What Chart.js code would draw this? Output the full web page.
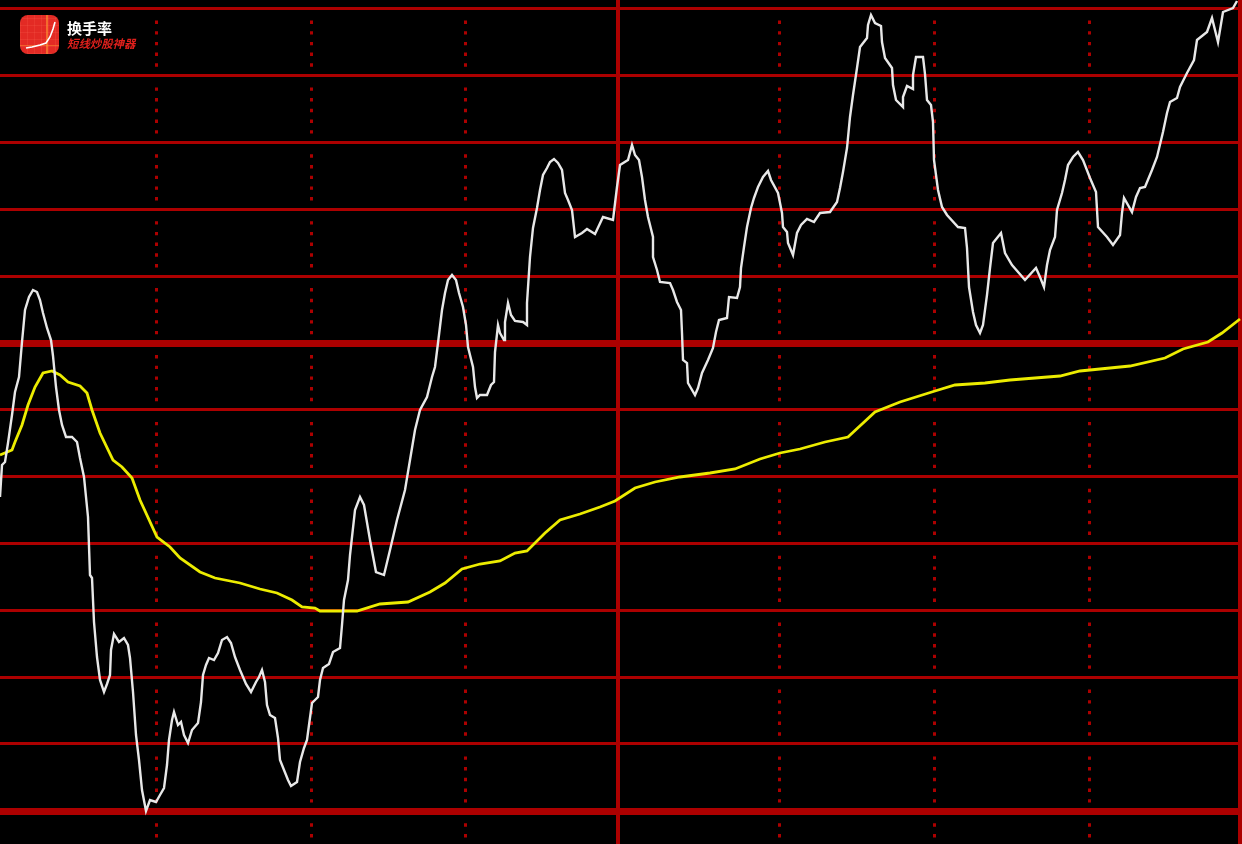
<!DOCTYPE html>
<html>
<head>
<meta charset="utf-8">
<title>换手率</title>
<script src="https://cdn.jsdelivr.net/npm/chart.js@4"></script>
<style>
    html, body { margin: 0; padding: 0; background: #000; overflow: hidden; }
    #chart { position: absolute; left: 0; top: 0; display: block; filter: blur(0.6px); }
    .logo { position: absolute; left: 20px; top: 15px; width: 39px; height: 39px; border-radius: 8px; overflow: hidden;
        background:
            linear-gradient(90deg, transparent 26px, rgba(255,150,50,.6) 26px, rgba(255,150,50,.6) 28px, transparent 28px),
            linear-gradient(0deg, transparent 8px, rgba(255,150,50,.5) 8px, rgba(255,150,50,.5) 9px, transparent 9px),
            repeating-linear-gradient(0deg, rgba(255,110,90,.18) 0 1px, transparent 1px 7px),
            repeating-linear-gradient(90deg, rgba(255,110,90,.18) 0 1px, transparent 1px 7px),
            #e32a24; }
    .logo svg { position: absolute; left: 0; top: 0; }
    .name { position: absolute; left: 67px; top: 18px; color: #fff; font: bold 15px/20px "Noto Sans CJK SC", sans-serif; letter-spacing: 0; }
    .slogan { position: absolute; left: 67px; top: 36px; color: #e0201c; font: italic bold 11.4px/14px "Noto Sans CJK SC", sans-serif; }
</style>
</head>
<body>
<canvas id="chart" width="1242" height="844"></canvas>
<div class="logo">
    <svg width="39" height="39"><polyline points="6,33 12,32 20,30 26,28 30,22 33,14 35,7" fill="none" stroke="#fff" stroke-width="1.6"/></svg>
</div>
<div class="name">换手率</div>
<div class="slogan">短线炒股神器</div>
<script>
// values, y counted from the top of the chart
const whiteX = [0,2,5,8,12,15,19,22,25,29,33,37,40,43,47,51,53,56,59,62,66,72,77,80,84,88,90,92,94,97,100,104,107,110,111,114,119,124,128,130,133,136,139,142,146,150,156,160,164,167,169,172,174,178,181,184,188,192,198,201,203,206,209,214,218,222,227,231,235,240,246,251,256,259,262,265,267,270,275,278,280,284,288,291,297,300,304,307,309,312,318,320,323,329,333,340,342,344,348,350,355,360,364,370,376,384,390,397,405,410,415,420,427,432,435,438,442,445,448,452,456,459,463,466,468,473,475,477,480,487,491,494,495,498,500,504,505,508,511,515,523,527,527,530,533,537,540,543,547,550,554,558,562,565,568,572,575,582,587,595,603,613,617,620,628,632,635,639,642,645,648,653,653,657,660,670,673,677,681,682,683,687,688,695,698,702,708,713,716,719,727,729,737,740,741,744,747,751,754,758,763,768,771,778,782,783,787,788,793,797,801,807,814,820,830,837,840,843,847,850,853,857,860,867,868,871,875,881,882,885,892,893,896,903,903,907,913,913,916,923,925,927,931,933,934,938,942,947,958,965,967,969,973,976,980,983,987,990,993,1001,1005,1012,1025,1036,1040,1044,1047,1050,1055,1057,1062,1065,1068,1073,1078,1083,1090,1096,1098,1107,1113,1120,1122,1124,1132,1136,1140,1145,1152,1157,1163,1167,1170,1177,1180,1187,1194,1197,1207,1212,1218,1223,1233,1237];
const whiteY = [497,465,462,443,415,392,377,342,310,297,290,292,300,313,328,340,356,387,410,425,437,437,442,458,477,517,575,578,622,657,680,692,684,675,650,634,642,638,645,658,692,735,760,790,811,800,802,795,788,765,740,720,712,725,722,735,743,730,723,702,675,665,658,660,653,640,637,643,657,670,684,692,682,677,670,682,705,715,718,738,760,770,780,786,782,762,748,740,725,703,697,680,668,664,652,648,625,600,580,555,510,497,505,540,572,575,550,520,490,460,430,410,397,377,367,343,310,293,280,275,280,293,307,325,347,367,387,398,395,395,385,382,352,325,333,340,322,303,315,321,322,325,303,257,228,208,190,175,168,162,159,163,170,193,200,210,237,233,229,234,217,220,187,165,160,145,155,160,177,200,217,237,257,270,282,283,290,302,310,333,360,363,383,395,388,373,360,348,332,320,318,297,298,287,268,247,227,208,198,187,177,171,180,193,213,227,232,243,255,233,225,219,222,213,212,202,188,172,148,117,95,68,47,38,25,15,23,26,42,58,68,85,100,107,97,86,89,75,57,57,74,100,105,122,160,190,207,215,227,228,248,287,312,325,333,325,295,268,243,233,253,265,280,268,277,287,265,250,237,210,193,180,165,157,152,160,178,192,227,237,245,235,213,198,212,197,188,187,170,157,132,113,102,98,87,73,60,40,32,18,42,12,8,1];
const yellowX = [0,12,15,22,28,35,43,52,60,68,80,87,92,100,113,122,132,140,157,170,180,200,215,240,260,277,292,302,315,320,357,380,408,430,445,462,480,500,515,527,545,560,580,600,615,635,655,680,710,735,760,780,800,825,848,875,900,935,955,985,1010,1060,1080,1130,1165,1183,1208,1222,1240];
const yellowY = [455,450,442,425,405,387,373,371,375,382,386,393,410,433,460,467,478,500,537,547,558,572,578,583,589,593,600,607,608,611,611,604,602,592,583,569,564,561,553,551,533,520,514,507,501,488,482,477,473,469,459,453,449,442,437,412,402,391,385,383,380,376,371,366,358,349,342,333,319];
const hGrid = [8,75,142,209,276,343,409,476,543,610,677,743,811];
const hGridBold = [343,811];
const vGridDotted = [156,311,465,779,934,1089];
const vGridSolid = [618,1240];

const gridColor = '#ac0000';

new Chart(document.getElementById('chart').getContext('2d'), {
    type: 'line',
    data: {
        datasets: [
            {
                data: whiteX.map((x, i) => ({ x: x, y: whiteY[i] })),
                borderColor: '#e8e8e8',
                borderWidth: 2.4,
                pointRadius: 0,
                tension: 0
            },
            {
                data: yellowX.map((x, i) => ({ x: x, y: yellowY[i] })),
                borderColor: '#ecec00',
                borderWidth: 2.8,
                pointRadius: 0,
                tension: 0
            }
        ]
    },
    options: {
        responsive: false,
        animation: false,
        layout: { padding: 0 },
        plugins: { legend: { display: false }, tooltip: { enabled: false } },
        scales: {
            x: {
                type: 'linear',
                min: 0,
                max: 1242,
                afterBuildTicks: (axis) => {
                    axis.ticks = vGridDotted.concat(vGridSolid).map(v => ({ value: v }));
                },
                ticks: { display: false, autoSkip: false },
                grid: {
                    color: gridColor,
                    drawTicks: false,
                    lineWidth: (c) => vGridSolid.includes(c.tick.value) ? 4 : 3
                },
                border: {
                    display: false,
                    dash: (c) => vGridSolid.includes(c.tick.value) ? [] : [3.4, 7.3, 3.4, 7.3, 3.4, 7.3, 3.4, 7.3, 3.4, 20.7],
                    dashOffset: 46.4
                }
            },
            y: {
                type: 'linear',
                reverse: true,
                min: 0,
                max: 844,
                afterBuildTicks: (axis) => {
                    axis.ticks = hGrid.map(v => ({ value: v }));
                },
                ticks: { display: false, autoSkip: false },
                grid: {
                    color: gridColor,
                    drawTicks: false,
                    lineWidth: (c) => hGridBold.includes(c.tick.value) ? 7 : 3
                },
                border: { display: false }
            }
        }
    }
});
</script>
</body>
</html>
